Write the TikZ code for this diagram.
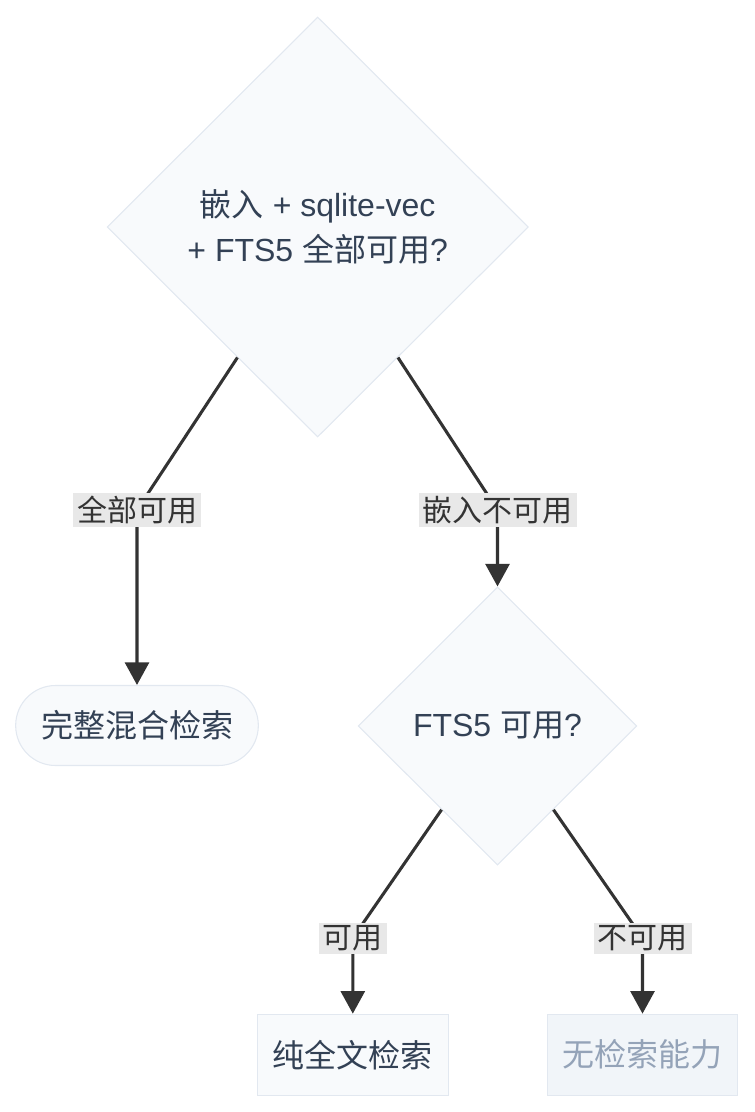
\documentclass[tikz,border=0pt]{standalone}
\usepackage{fontspec}
\usepackage{xcolor}
\usepackage{tikz}
\setmainfont{Liberation Sans}
\newfontfamily\cjk{Noto Sans CJK SC}
\usetikzlibrary{shapes,arrows.meta,positioning,calc}

\definecolor{nodefill}{HTML}{F8FAFC}
\definecolor{nodeline}{HTML}{E2E8F0}
\definecolor{nodetext}{HTML}{334155}
\definecolor{offfill}{HTML}{F1F5F9}
\definecolor{offtext}{HTML}{94A3B8}
\definecolor{edgecol}{HTML}{333333}
\definecolor{lblbg}{HTML}{E8E8E8}

\begin{document}
\begin{tikzpicture}[
    x=0.75pt, y=-0.75pt,
    decision/.style={diamond, aspect=1, draw=nodeline, fill=nodefill, line width=0.8pt, text=nodetext, inner sep=0pt, align=center, font=\fontsize{24}{33.75}\selectfont},
    result/.style={rectangle, draw=nodeline, fill=nodefill, line width=0.8pt, text=nodetext, minimum width=143pt, minimum height=60.75pt, font=\cjk\fontsize{24}{28}\selectfont},
    branch/.style={fill=lblbg, text=edgecol, inner xsep=3pt, inner ysep=2pt, font=\cjk\fontsize{22.5}{26}\selectfont},
    flow/.style={draw=edgecol, line width=2.3pt, -{Triangle[width=18pt,length=17pt]}}
]
\useasboundingbox (0,0) rectangle (754,1112);

% Decisions
\node[decision, minimum width=316pt, minimum height=315pt] (check) at (317.7,227) {{\cjk 嵌入} + sqlite-vec\\+ FTS5 {\cjk 全部可用}?};
\node[decision, minimum width=209pt, minimum height=208.5pt] (fts) at (497.5,726) {FTS5 {\cjk 可用}?};

% Results
\node[result, minimum width=182pt, minimum height=60pt, rounded corners=29.9pt] (hybrid) at (137,725.5) {完整混合检索};
\node[result] (fulltext) at (352.8,1054.7) {纯全文检索};
\node[result, fill=offfill, text=offtext] (none) at (642.5,1054.7) {无检索能力};

% Bends
\coordinate (b1) at (137,510);
\coordinate (b2) at (497.5,510);
\coordinate (b3) at (352.8,938);
\coordinate (b4) at (642.5,938);

% Edges
\draw[flow] ($(check.west)!0.62!(check.south)$) -- (b1) -- (hybrid.north);
\draw[flow] ($(check.east)!0.62!(check.south)$) -- (b2) -- (fts.north);
\draw[flow] ($(fts.west)!0.6!(fts.south)$) -- (b3) -- (fulltext.north);
\draw[flow] ($(fts.east)!0.6!(fts.south)$) -- (b4) -- (none.north);

% Labels
\node[branch] (l1) at (b1) {全部可用};
\node[branch] (l2) at (b2) {嵌入不可用};
\node[branch] (l3) at (b3) {可用};
\node[branch] (l4) at (b4) {不可用};

\end{tikzpicture}
\end{document}
